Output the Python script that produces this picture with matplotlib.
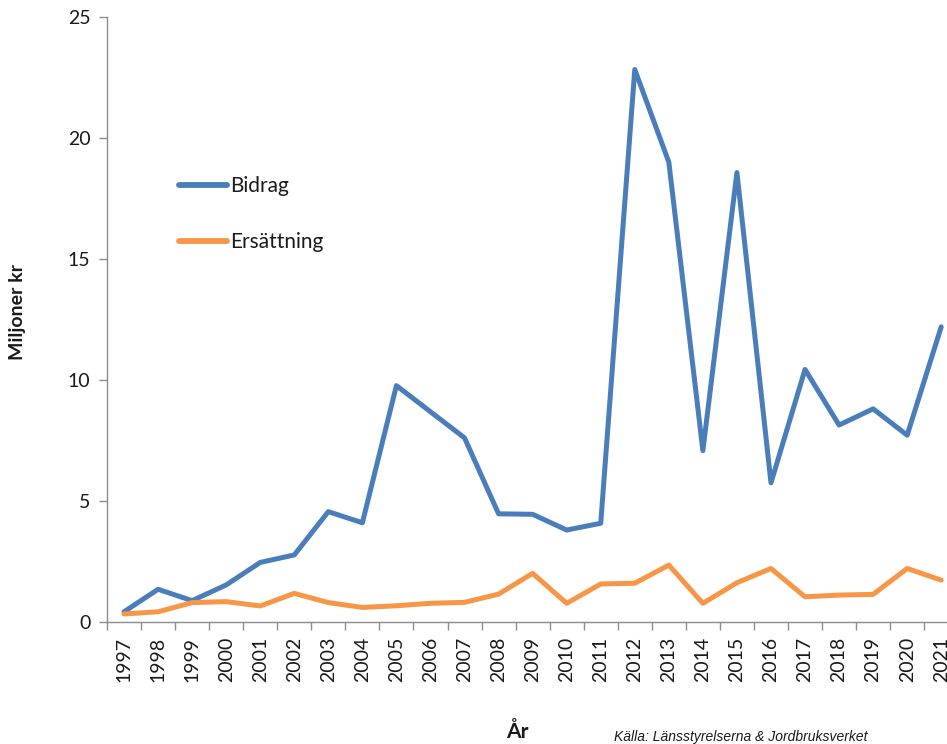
import matplotlib
matplotlib.use("Agg")
import matplotlib.pyplot as plt
from matplotlib.ticker import FixedLocator

plt.rcParams['font.family'] = ['Lato', 'DejaVu Sans']

years = [str(y) for y in range(1997, 2022)]
bidrag = [0.41, 1.34, 0.87, 1.52, 2.45, 2.76, 4.55, 4.09, 9.76, 8.68,
          7.60, 4.46, 4.44, 3.79, 4.07, 22.83, 19.0, 7.07, 18.57, 5.74,
          10.43, 8.13, 8.80, 7.71, 12.19]
ersattning = [0.32, 0.41, 0.79, 0.83, 0.65, 1.17, 0.79, 0.59, 0.66, 0.76,
              0.80, 1.14, 2.00, 0.76, 1.56, 1.59, 2.34, 0.76, 1.61, 2.20,
              1.03, 1.10, 1.13, 2.20, 1.72]
yticks = [0, 5, 10, 15, 20, 25]

W, H = 947, 744
fig = plt.figure(figsize=(W / 100, H / 100), dpi=100)
ax = fig.add_axes([107 / W, (H - 621.7) / H, 1 - 107 / W, (621.7 - 17) / H])

x = list(range(len(years)))
blue = '#4a7ebb'
orange = '#f79646'
ax.plot(x, bidrag, color=blue, lw=3.6, solid_joinstyle='round',
        solid_capstyle='round', label='Bidrag')
ax.plot(x, ersattning, color=orange, lw=3.6, solid_joinstyle='round',
        solid_capstyle='round', label='Ersättning')

ax.set_xlim(-0.5, -0.5 + (W - 107) / 34.05)
ax.set_ylim(0, 25)

for side in ('top', 'right'):
    ax.spines[side].set_visible(False)
for side in ('left', 'bottom'):
    ax.spines[side].set_color('#8c8c8c')
    ax.spines[side].set_linewidth(1.0)

ax.set_yticks(yticks)
ax.set_yticklabels([str(v) for v in yticks])
ax.tick_params(axis='y', direction='out', length=6, width=1.0,
               color='#8c8c8c', pad=6, labelsize=14, labelcolor='#1a1a1a')

ax.set_xticks(x)
ax.set_xticklabels(years, rotation=90)
ax.tick_params(axis='x', which='major', length=0, pad=11, labelsize=14,
               labelcolor='#1a1a1a')
ax.xaxis.set_minor_locator(FixedLocator([i + 0.5 for i in range(-1, len(years))]))
ax.tick_params(axis='x', which='minor', direction='out', length=6,
               width=1.0, color='#8c8c8c')

leg = ax.legend(loc='upper left', bbox_to_anchor=(179 / W, 1 - 176 / H),
                bbox_transform=fig.transFigure, frameon=False, fontsize=15,
                handlelength=2.3, handletextpad=0.15, labelspacing=1.72,
                borderpad=0, borderaxespad=0)
for line in leg.get_lines():
    line.set_linewidth(4.2)
for t in leg.get_texts():
    t.set_color('#1a1a1a')

fig.text(18 / W, 1 - 312 / H, 'Miljoner kr', rotation=90, ha='center',
         va='center', fontsize=14, fontweight='bold', color='#1a1a1a')
fig.text(517 / W, 1 - 732 / H, 'År', ha='center', va='center',
         fontsize=15, fontweight='bold', color='#1a1a1a')
fig.text(741 / W, 1 - 737 / H, 'Källa: Länsstyrelserna & Jordbruksverket',
         ha='center', va='center', fontsize=10, style='italic',
         family='Liberation Sans', color='#1a1a1a')

fig.savefig('out.png', dpi=100)
